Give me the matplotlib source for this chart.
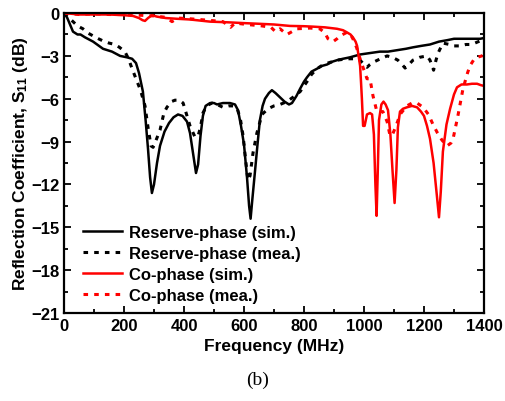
import numpy as np
import matplotlib
matplotlib.use('Agg')
import matplotlib.pyplot as plt
from matplotlib.ticker import MultipleLocator

# fonts - Arial-like bold everywhere
plt.rcParams['font.family'] = 'Liberation Sans'
plt.rcParams['font.weight'] = 'bold'
plt.rcParams['mathtext.fontset'] = 'custom'
plt.rcParams['mathtext.it'] = 'Liberation Sans:italic:bold'
plt.rcParams['mathtext.rm'] = 'Liberation Sans:bold'

# Reserve-phase, simulated
rs_freq = [0, 10, 20, 30, 45, 55, 70, 97, 130, 160, 187, 210, 227, 240, 250, 263, 272, 280, 287, 293,
           300, 310, 320, 335, 350, 365, 380, 395, 410, 420, 430, 440, 447, 455, 463, 472, 487, 500,
           510, 530, 553, 570, 580, 590, 600, 610, 617, 622, 628, 637, 645, 653, 662, 670, 683, 693,
           705, 720, 735, 750, 760, 775, 787, 800, 810, 825, 843, 860, 877, 895, 910, 930, 953, 970,
           987, 1020, 1053, 1080, 1110, 1140, 1163, 1190, 1220, 1250, 1277, 1300, 1330, 1360, 1387, 1400]
rs_s11 = [0, -0.3, -0.8, -1.3, -1.5, -1.5, -1.7, -2.0, -2.5, -2.7, -3.0, -3.1, -3.2, -3.5, -4.2, -5.5,
          -7.5, -9.5, -11.5, -12.6, -12.0, -10.5, -9.3, -8.3, -7.7, -7.3, -7.1, -7.2, -7.6, -8.4, -9.8,
          -11.2, -10.6, -8.6, -7.2, -6.5, -6.3, -6.3, -6.4, -6.3, -6.3, -6.4, -6.8, -7.9, -9.2, -11.5,
          -13.5, -14.4, -13.0, -11.0, -9.2, -7.5, -6.5, -6.0, -5.6, -5.4, -5.6, -5.9, -6.2, -6.4, -6.3,
          -5.8, -5.3, -4.8, -4.5, -4.1, -3.9, -3.7, -3.6, -3.4, -3.3, -3.2, -3.1, -3.0, -2.9, -2.8, -2.7,
          -2.7, -2.6, -2.5, -2.4, -2.3, -2.2, -2.0, -1.9, -1.8, -1.8, -1.8, -1.8, -1.75]

# Reserve-phase, measured
rm_freq = [0, 15, 30, 45, 63, 80, 97, 115, 130, 150, 170, 185, 203, 215, 227, 240, 255, 270, 280, 290,
           297, 305, 320, 333, 343, 358, 370, 385, 397, 410, 420, 437, 447, 455, 463, 475, 493, 510,
           530, 550, 565, 577, 587, 597, 605, 613, 620, 630, 643, 660, 680, 700, 720, 743, 763, 787,
           800, 810, 825, 843, 865, 887, 910, 943, 970, 987, 1000, 1010, 1020, 1030, 1055, 1077, 1095,
           1113, 1127, 1137, 1150, 1163, 1185, 1210, 1220, 1227, 1232, 1240, 1247, 1263, 1285, 1300,
           1320, 1340, 1353, 1370, 1387, 1400]
rm_s11 = [0, -0.3, -0.6, -0.9, -1.1, -1.4, -1.6, -1.8, -1.95, -2.1, -2.2, -2.4, -2.7, -3.2, -3.9, -4.6,
          -5.4, -6.5, -8.0, -9.3, -9.4, -9.0, -8.2, -7.0, -6.6, -6.2, -6.1, -6.1, -6.3, -7.2, -7.9, -8.7,
          -8.6, -8.0, -7.0, -6.5, -6.3, -6.4, -6.6, -6.5, -6.5, -6.7, -7.3, -8.6, -10.2, -11.7, -11.4,
          -9.8, -8.4, -7.1, -6.7, -6.5, -6.4, -6.2, -5.9, -5.5, -5.1, -4.8, -4.3, -3.9, -3.6, -3.45,
          -3.3, -3.2, -3.2, -3.3, -3.6, -3.8, -3.6, -3.45, -3.2, -3.0, -3.1, -3.3, -3.6, -3.85, -3.6,
          -3.3, -3.1, -3.0, -3.3, -3.7, -4.0, -3.3, -2.8, -2.1, -2.2, -2.3, -2.3, -2.2, -2.2, -2.1,
          -1.95, -1.9]

# Co-phase, simulated
cs_freq = [0, 50, 100, 150, 200, 230, 250, 262, 270, 280, 293, 310, 340, 377, 420, 487, 550, 597, 650,
           700, 753, 800, 830, 870, 910, 930, 943, 955, 963, 972, 977, 982, 987, 990, 993, 997, 1002,
           1010, 1020, 1027, 1033, 1038, 1042, 1046, 1050, 1058, 1065, 1072, 1080, 1088, 1095, 1102,
           1108, 1113, 1120, 1130, 1143, 1160, 1177, 1190, 1200, 1210, 1220, 1232, 1243, 1250, 1256,
           1263, 1275, 1287, 1300, 1310, 1325, 1343, 1360, 1377, 1390, 1400]
cs_s11 = [0, -0.1, -0.1, -0.1, -0.15, -0.2, -0.35, -0.5, -0.55, -0.35, -0.15, -0.25, -0.35, -0.4, -0.45,
          -0.6, -0.65, -0.7, -0.75, -0.8, -0.9, -0.92, -0.95, -1.0, -1.1, -1.2, -1.35, -1.5, -1.7, -2.0,
          -2.3, -3.0, -3.7, -4.8, -6.0, -7.9, -7.9, -7.1, -7.0, -7.1, -8.5, -12.0, -14.2, -11.0, -7.5,
          -6.4, -6.2, -6.4, -6.8, -8.5, -11.0, -13.3, -11.0, -8.0, -6.9, -6.7, -6.6, -6.5, -6.6, -6.9,
          -7.2, -7.9, -8.8, -10.5, -12.8, -14.3, -12.5, -9.7, -7.8, -6.7, -5.7, -5.2, -5.0, -5.0,
          -4.95, -4.95, -5.05, -5.1]

# Co-phase, measured
cm_freq = [0, 50, 100, 150, 200, 250, 300, 340, 360, 380, 420, 480, 530, 555, 570, 610, 660, 690, 705,
           720, 743, 760, 777, 820, 853, 870, 880, 897, 910, 920, 943, 955, 963, 975, 987, 1000, 1010,
           1020, 1030, 1043, 1063, 1077, 1087, 1095, 1103, 1112, 1120, 1143, 1160, 1177, 1197, 1215,
           1230, 1245, 1260, 1277, 1290, 1297, 1313, 1330, 1345, 1353, 1365, 1377, 1393, 1400]
cm_s11 = [0, -0.1, -0.05, -0.1, -0.1, -0.15, -0.2, -0.3, -0.6, -0.35, -0.4, -0.5, -0.6, -1.0, -0.7,
          -0.8, -0.9, -1.0, -1.3, -1.1, -1.5, -1.3, -1.1, -1.05, -1.1, -1.4, -1.8, -2.0, -1.8, -1.6,
          -1.35, -1.5, -1.8, -2.4, -3.2, -4.0, -4.6, -4.6, -5.8, -6.9, -6.9, -7.6, -8.6, -8.5, -8.1,
          -7.6, -7.1, -6.5, -6.3, -6.3, -6.6, -7.1, -7.8, -8.4, -8.9, -9.3, -9.1, -8.8, -7.2, -5.3,
          -4.2, -3.7, -3.3, -3.1, -3.0, -2.9]

dots = (0, (1.5, 2.0))

fig = plt.figure(figsize=(5.06, 4.02), dpi=100)
ax = fig.add_axes([0.1265, 0.219, 0.83, 0.746])

ax.plot(rs_freq, rs_s11, color='black', lw=1.8, label='Reserve-phase (sim.)')
ax.plot(rm_freq, rm_s11, color='black', lw=2.2, ls=dots, label='Reserve-phase (mea.)')
ax.plot(cs_freq, cs_s11, color='red', lw=1.8, label='Co-phase (sim.)')
ax.plot(cm_freq, cm_s11, color='red', lw=2.2, ls=dots, label='Co-phase (mea.)')

ax.set_xlim(0, 1400)
ax.set_ylim(-21, 0)
ax.xaxis.set_major_locator(MultipleLocator(200))
ax.xaxis.set_minor_locator(MultipleLocator(100))
ax.yaxis.set_major_locator(MultipleLocator(3))
ax.yaxis.set_minor_locator(MultipleLocator(1.5))
ax.tick_params(which='both', direction='in', top=True, right=True, labelsize=12, width=1.3)
ax.tick_params(which='major', length=5)
ax.tick_params(which='minor', length=3)
for sp in ax.spines.values():
    sp.set_linewidth(1.6)

ax.set_xlabel('Frequency (MHz)', fontsize=12.5, fontweight='bold', labelpad=4)
ax.set_ylabel(r'Reflection Coefficient, S$_{\mathit{11}}$ (dB)', fontsize=12.5,
              fontweight='bold', labelpad=1)

# legend sits in the empty lower-left corner, no frame
ax.legend(loc='lower left', bbox_to_anchor=(0.017, -0.005), frameon=False, fontsize=12,
          handlelength=2.35, handletextpad=0.4, labelspacing=0.35, borderaxespad=0.3)

fig.text(0.51, 0.055, '(b)', ha='center', va='center', fontsize=14,
         family='Liberation Serif', fontweight='normal')

fig.savefig('out.png', dpi=100)
